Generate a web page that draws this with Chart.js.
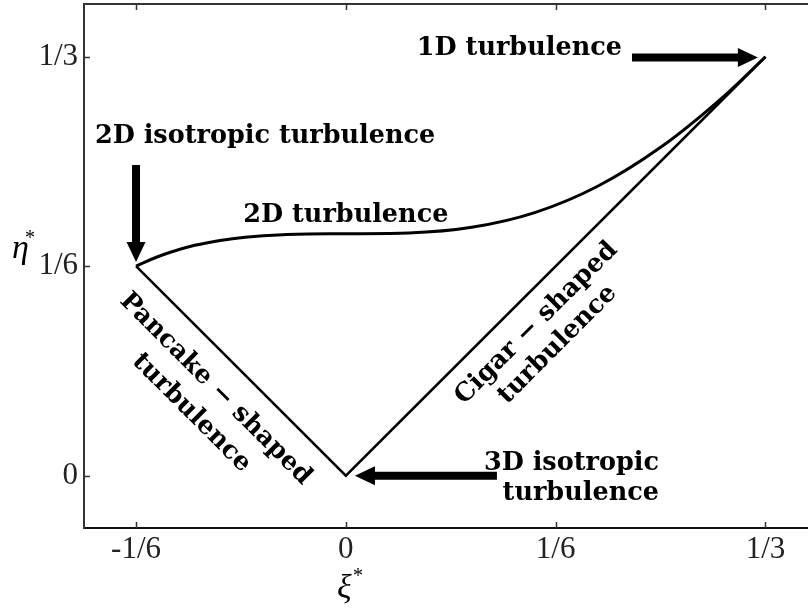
<!DOCTYPE html>
<html>
<head>
<meta charset="utf-8">
<script src="https://cdn.jsdelivr.net/npm/chart.js@4/dist/chart.umd.min.js"></script>
<style>
  html, body { margin: 0; padding: 0; background: #fff; }
  #wrap { width: 808px; height: 610px; }
</style>
</head>
<body>
<div id="wrap"><canvas id="lumley"></canvas></div>
<script>
// Invariant map data
const xiTicks = [-1/6, 0, 1/6, 1/3];
const xiTickLabels = ['-1/6', '0', '1/6', '1/3'];
const etaTicks = [0, 1/6, 1/3];
const etaTickLabels = ['0', '1/6', '1/3'];

// straight edges: pancake edge and cigar edge
const edgeXi = [-1/6, 0, 1/3];
const edgeEta = [1/6, 0, 1/3];

// 2D turbulence curve
const curveXi = [-1/6, -0.16, -0.15, -0.14, -0.12, -0.10, -0.08, -0.05, 0, 0.05, 0.10, 0.15, 0.20, 0.25, 0.30, 1/3];
const curveEta = [1/6, 0.1698, 0.1740, 0.1776, 0.1833, 0.1872, 0.1898, 0.1918, 0.1925, 0.1931, 0.1976, 0.2093, 0.2303, 0.2613, 0.3017, 1/3];

const toPoints = (xs, ys) => xs.map((x, i) => ({ x: x, y: ys[i] }));

const serif = '"DejaVu Serif", "Liberation Serif", serif';
const tickFont = '"Liberation Serif", serif';

// annotations (text + arrows), placed in data coordinates
const annotations = {
  texts: [
    { lines: ['2D isotropic turbulence'], x: -0.1993, y: 0.2647, align: 'left', rot: 0 },
    { lines: ['2D turbulence'], x: 0.0, y: 0.2019, align: 'center', rot: 0 },
    { lines: ['1D turbulence'], x: 0.2193, y: 0.3347, align: 'right', rot: 0 },
    { lines: ['3D isotropic', 'turbulence'], x: 0.2487, y: 0.0046, align: 'right', rot: 0, lh: 30 },
    { lines: ['Pancake \u2212 shaped', 'turbulence'], x: -0.1131, y: 0.0595, align: 'center', rot: 45, middle: true, lh: 34 },
    { lines: ['Cigar \u2212 shaped', 'turbulence'], x: 0.1598, y: 0.1128, align: 'center', rot: -45, middle: true, lh: 30 }
  ],
  arrows: [
    { from: [0.2273, 0.3327], to: [0.3273, 0.3327] },
    { from: [-1/6, 0.2472], to: [-1/6, 0.1700] },
    { from: [0.1200, 0], to: [0.0072, 0] }
  ]
};

function drawArrow(ctx, x0, y0, x1, y1) {
  const headLen = 20, headW = 19, shaft = 8;
  const ang = Math.atan2(y1 - y0, x1 - x0);
  const bx = x1 - headLen * Math.cos(ang);
  const by = y1 - headLen * Math.sin(ang);
  ctx.save();
  ctx.strokeStyle = '#000';
  ctx.fillStyle = '#000';
  ctx.lineWidth = shaft;
  ctx.lineCap = 'butt';
  ctx.beginPath();
  ctx.moveTo(x0, y0);
  ctx.lineTo(bx + 1 * Math.cos(ang), by + 1 * Math.sin(ang));
  ctx.stroke();
  ctx.beginPath();
  ctx.moveTo(x1, y1);
  ctx.lineTo(bx + headW / 2 * Math.sin(ang), by - headW / 2 * Math.cos(ang));
  ctx.lineTo(bx - headW / 2 * Math.sin(ang), by + headW / 2 * Math.cos(ang));
  ctx.closePath();
  ctx.fill();
  ctx.restore();
}

const decorPlugin = {
  id: 'decor',
  afterDatasetsDraw(chart) {
    const ctx = chart.ctx;
    const xs = chart.scales.x, ys = chart.scales.y;
    const area = chart.chartArea;

    ctx.save();
    // frame: top line (left and bottom come from the axis borders)
    ctx.strokeStyle = '#333';
    ctx.lineWidth = 2;
    ctx.beginPath();
    ctx.moveTo(area.left, area.top);
    ctx.lineTo(area.right, area.top);
    ctx.stroke();

    // inward tick marks
    ctx.lineWidth = 1.5;
    xiTicks.forEach(v => {
      const px = Math.round(xs.getPixelForValue(v)) + 0.5;
      ctx.beginPath();
      ctx.moveTo(px, area.bottom);
      ctx.lineTo(px, area.bottom - 6);
      ctx.moveTo(px, area.top);
      ctx.lineTo(px, area.top + 6);
      ctx.stroke();
    });
    etaTicks.forEach(v => {
      const py = Math.round(ys.getPixelForValue(v)) + 0.5;
      ctx.beginPath();
      ctx.moveTo(area.left, py);
      ctx.lineTo(area.left + 6, py);
      ctx.stroke();
    });

    // axis titles
    ctx.fillStyle = '#000';
    ctx.textBaseline = 'alphabetic';
    ctx.textAlign = 'left';
    ctx.font = 'italic 34px "Liberation Serif", serif';
    ctx.fillText('\u03BE', 337, 598);
    ctx.fillText('\u03B7', 12, 258);
    ctx.font = '20px "Liberation Serif", serif';
    ctx.fillText('*', 353, 582);
    ctx.fillText('*', 25, 244);

    // arrows
    annotations.arrows.forEach(a => {
      drawArrow(ctx,
        xs.getPixelForValue(a.from[0]), ys.getPixelForValue(a.from[1]),
        xs.getPixelForValue(a.to[0]), ys.getPixelForValue(a.to[1]));
    });

    // labels
    ctx.font = 'bold 25.5px ' + serif;
    annotations.texts.forEach(t => {
      const px = xs.getPixelForValue(t.x), py = ys.getPixelForValue(t.y);
      const lh = t.lh || 30;
      ctx.save();
      ctx.translate(px, py);
      ctx.rotate(t.rot * Math.PI / 180);
      ctx.textAlign = t.align;
      if (t.middle) {
        ctx.textBaseline = 'middle';
        const off = -(t.lines.length - 1) * lh / 2;
        t.lines.forEach((s, i) => ctx.fillText(s, 0, off + i * lh));
      } else {
        ctx.textBaseline = 'alphabetic';
        t.lines.forEach((s, i) => ctx.fillText(s, 0, i * lh));
      }
      ctx.restore();
    });
    ctx.restore();
  }
};

const noPad = scale => {
  scale.paddingTop = 0;
  scale.paddingBottom = 0;
  scale.paddingLeft = 0;
  scale.paddingRight = 0;
};

new Chart(document.getElementById('lumley'), {
  type: 'scatter',
  data: {
    datasets: [
      {
        label: 'edges',
        data: toPoints(edgeXi, edgeEta),
        showLine: true,
        borderColor: '#000',
        borderWidth: 2.5,
        pointRadius: 0,
        fill: false
      },
      {
        label: '2D turbulence',
        data: toPoints(curveXi, curveEta),
        showLine: true,
        borderColor: '#000',
        borderWidth: 3,
        pointRadius: 0,
        cubicInterpolationMode: 'monotone',
        fill: false
      }
    ]
  },
  options: {
    responsive: true,
    maintainAspectRatio: false,
    animation: false,
    layout: { padding: { top: 4, right: 0, left: 0, bottom: 0 } },
    plugins: {
      legend: { display: false },
      tooltip: { enabled: false }
    },
    scales: {
      x: {
        type: 'linear',
        min: -0.2080,
        max: 0.3671,
        afterBuildTicks: s => { s.ticks = xiTicks.map(v => ({ value: v })); },
        afterFit: s => { s.height = 82; noPad(s); },
        ticks: {
          callback: (v, i) => xiTickLabels[i],
          color: '#222',
          font: { family: tickFont, size: 31 },
          padding: 3,
          maxRotation: 0,
          autoSkip: false
        },
        grid: { display: false, drawTicks: false },
        border: { display: true, color: '#111', width: 2 }
      },
      y: {
        type: 'linear',
        min: -0.0416,
        max: 0.3753,
        afterBuildTicks: s => { s.ticks = etaTicks.map(v => ({ value: v })); },
        afterFit: s => { s.width = 84; noPad(s); },
        ticks: {
          callback: (v, i) => etaTickLabels[i],
          color: '#222',
          font: { family: tickFont, size: 31 },
          padding: 6,
          autoSkip: false
        },
        grid: { display: false, drawTicks: false },
        border: { display: true, color: '#333', width: 2 }
      }
    }
  },
  plugins: [decorPlugin]
});
</script>
</body>
</html>
